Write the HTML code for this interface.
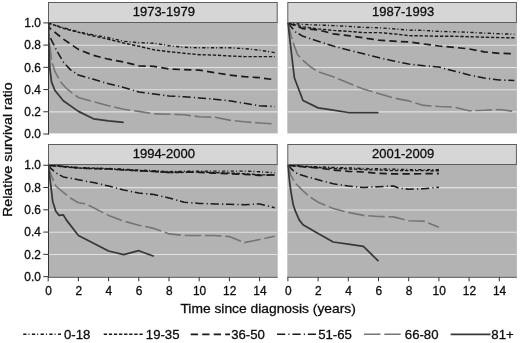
<!DOCTYPE html>
<html lang="en"><head><meta charset="utf-8"><title>Relative survival ratio</title>
<style>html,body{margin:0;padding:0;background:#fff}body{width:520px;height:343px;overflow:hidden}svg{display:block}text{font-family:"Liberation Sans",Arial,Helvetica,sans-serif;fill:#0d0d0d;stroke:#0d0d0d;stroke-width:.3px}</style></head><body>
<svg width="520" height="343" viewBox="0 0 520 343">
<rect width="520" height="343" fill="#fff"/>
<rect x="48" y="22" width="229.7" height="111.4" fill="#b3b3b3"/>
<line x1="48" x2="277.7" y1="111.88" y2="111.88" stroke="#e2e2e2" stroke-width="1.05"/>
<line x1="48" x2="277.7" y1="89.66" y2="89.66" stroke="#e2e2e2" stroke-width="1.05"/>
<line x1="48" x2="277.7" y1="67.44" y2="67.44" stroke="#e2e2e2" stroke-width="1.05"/>
<line x1="48" x2="277.7" y1="45.22" y2="45.22" stroke="#e2e2e2" stroke-width="1.05"/>
<clipPath id="cp1"><rect x="48" y="22" width="229.7" height="113.1"/></clipPath>
<g clip-path="url(#cp1)" fill="none" stroke-linejoin="round">
<polyline points="48.2,23.0 63.3,27.7 78.4,31.8 93.5,34.9 108.6,37.7 123.7,41.3 138.8,42.7 153.9,43.2 169.0,45.7 184.1,47.3 199.2,47.8 214.3,47.8 229.4,47.8 244.5,48.6 259.6,50.2 274.7,52.6" stroke="#1a1a1a" stroke-width="1.4" stroke-dasharray="3.3 2 1 2.4"/>
<polyline points="48.2,23.0 63.3,28.3 78.4,32.4 93.5,36.0 108.6,39.3 123.7,43.0 138.8,46.2 153.9,49.8 169.0,51.7 184.1,53.3 199.2,54.7 214.3,55.1 229.4,56.0 244.5,56.6 259.6,56.6 274.7,56.6" stroke="#1a1a1a" stroke-width="1.4" stroke-dasharray="3.3 1.8"/>
<polyline points="48.2,23.0 49.1,27.4 51.2,29.3 63.3,39.1 78.4,49.4 93.5,55.4 108.6,59.2 123.7,62.0 138.8,65.8 153.9,66.3 169.0,69.0 184.1,69.7 199.2,70.1 214.3,72.6 229.4,75.0 244.5,76.7 259.6,77.7 274.7,79.7" stroke="#1a1a1a" stroke-width="1.7" stroke-dasharray="7.3 4.2"/>
<polyline points="48.2,23.0 49.1,35.2 55.8,48.9 63.3,62.0 70.8,70.1 78.4,75.0 93.5,79.3 108.6,83.8 123.7,87.4 138.8,91.9 153.9,94.0 169.0,96.0 184.1,96.8 199.2,97.9 214.3,99.2 229.4,100.8 244.5,103.3 259.6,105.8 274.7,106.5" stroke="#1a1a1a" stroke-width="1.55" stroke-dasharray="8.2 3.2 1.2 2.8"/>
<polyline points="48.2,23.0 49.4,43.0 51.8,61.9 55.1,71.9 61.3,82.8 66.0,88.0 70.8,91.9 78.4,97.5 93.5,101.7 108.6,105.8 123.7,109.3 138.8,111.4 153.9,113.9 169.0,114.2 184.1,114.8 199.2,116.7 214.3,117.2 229.4,120.1 244.5,121.8 259.6,123.0 274.7,124.0" stroke="#757575" stroke-width="1.6" stroke-dasharray="16.5 3.8"/>
<polyline points="48.2,23.0 49.0,50.8 50.0,69.7 51.5,81.9 54.8,90.2 63.3,100.8 78.4,111.4 93.5,118.8 108.6,120.8 123.7,122.4" stroke="#383838" stroke-width="1.75"/>
</g>
<rect x="48.5" y="2.5" width="228.7" height="20" fill="#d6d6d6" stroke="#5e5e5e" stroke-width="1"/>
<text x="163.8" y="15.9" font-size="13" text-anchor="middle">1973-1979</text>
<rect x="287.3" y="22" width="229.59999999999997" height="111.4" fill="#b3b3b3"/>
<line x1="287.3" x2="516.9" y1="111.88" y2="111.88" stroke="#e2e2e2" stroke-width="1.05"/>
<line x1="287.3" x2="516.9" y1="89.66" y2="89.66" stroke="#e2e2e2" stroke-width="1.05"/>
<line x1="287.3" x2="516.9" y1="67.44" y2="67.44" stroke="#e2e2e2" stroke-width="1.05"/>
<line x1="287.3" x2="516.9" y1="45.22" y2="45.22" stroke="#e2e2e2" stroke-width="1.05"/>
<clipPath id="cp2"><rect x="287.3" y="22" width="229.59999999999997" height="113.1"/></clipPath>
<g clip-path="url(#cp2)" fill="none" stroke-linejoin="round">
<polyline points="287.9,23.0 303.0,24.4 318.1,25.0 333.2,25.6 348.3,26.4 363.4,27.4 378.5,27.7 393.6,28.9 408.7,30.1 423.8,30.4 438.9,31.4 454.0,31.8 469.1,32.3 484.2,33.1 499.3,33.8 514.4,34.2" stroke="#1a1a1a" stroke-width="1.4" stroke-dasharray="3.3 2 1 2.4"/>
<polyline points="287.9,23.0 303.0,26.9 318.1,28.9 333.2,30.4 348.3,31.4 363.4,32.6 378.5,32.6 393.6,33.8 408.7,35.6 423.8,35.9 438.9,36.3 454.0,36.3 469.1,36.7 484.2,37.2 499.3,37.6 514.4,37.8" stroke="#1a1a1a" stroke-width="1.4" stroke-dasharray="3.3 1.8"/>
<polyline points="287.9,23.0 303.0,28.6 318.1,29.9 333.2,33.8 348.3,35.6 363.4,37.8 378.5,40.2 393.6,41.2 408.7,41.9 423.8,44.0 438.9,46.0 454.0,47.3 469.1,48.9 484.2,51.9 499.3,53.3 514.4,53.8" stroke="#1a1a1a" stroke-width="1.7" stroke-dasharray="7.3 4.2"/>
<polyline points="287.9,23.0 295.4,31.9 303.0,36.3 318.1,41.2 333.2,46.1 348.3,50.1 363.4,53.8 378.5,57.6 393.6,60.9 408.7,64.1 423.8,65.8 438.9,67.1 454.0,71.0 469.1,75.0 484.2,78.0 499.3,80.0 514.4,80.4" stroke="#1a1a1a" stroke-width="1.55" stroke-dasharray="8.2 3.2 1.2 2.8"/>
<polyline points="287.9,23.0 292.7,41.6 297.6,54.7 303.0,60.3 310.5,66.9 318.1,71.8 333.2,76.7 348.3,82.9 363.4,89.1 378.5,93.5 393.6,98.0 408.7,100.9 423.8,105.4 438.9,106.5 454.0,107.1 469.1,110.7 484.2,110.3 499.3,109.5 514.4,111.4" stroke="#757575" stroke-width="1.6" stroke-dasharray="16.5 3.8"/>
<polyline points="287.9,23.0 294.4,78.0 303.0,100.5 318.1,107.9 333.2,110.1 348.3,112.5 363.4,112.5 378.5,112.5" stroke="#383838" stroke-width="1.75"/>
</g>
<rect x="287.8" y="2.5" width="228.59999999999997" height="20" fill="#d6d6d6" stroke="#5e5e5e" stroke-width="1"/>
<text x="403.1" y="15.9" font-size="13" text-anchor="middle">1987-1993</text>
<rect x="48" y="164" width="229.7" height="112.0" fill="#b3b3b3"/>
<line x1="48" x2="277.7" y1="254.47" y2="254.47" stroke="#e2e2e2" stroke-width="1.05"/>
<line x1="48" x2="277.7" y1="232.19" y2="232.19" stroke="#e2e2e2" stroke-width="1.05"/>
<line x1="48" x2="277.7" y1="209.91" y2="209.91" stroke="#e2e2e2" stroke-width="1.05"/>
<line x1="48" x2="277.7" y1="187.63" y2="187.63" stroke="#e2e2e2" stroke-width="1.05"/>
<clipPath id="cp3"><rect x="48" y="164" width="229.7" height="113.8"/></clipPath>
<g clip-path="url(#cp3)" fill="none" stroke-linejoin="round">
<polyline points="48.2,165.3 63.3,166.2 78.4,167.6 93.5,168.1 108.6,168.5 123.7,169.2 138.8,170.1 153.9,170.7 169.0,171.6 184.1,171.3 199.2,171.1 214.3,171.1 229.4,171.1 244.5,171.1 259.6,171.7 274.7,172.8" stroke="#1a1a1a" stroke-width="1.4" stroke-dasharray="3.3 2 1 2.4"/>
<polyline points="48.2,165.3 63.3,166.7 78.4,168.1 93.5,168.7 108.6,169.1 123.7,169.9 138.8,170.9 153.9,171.5 169.0,172.6 184.1,172.4 199.2,172.0 214.3,172.6 229.4,173.1 244.5,173.7 259.6,174.8 274.7,175.0" stroke="#1a1a1a" stroke-width="1.4" stroke-dasharray="3.3 1.8"/>
<polyline points="48.2,165.3 63.3,166.5 78.4,167.9 93.5,168.5 108.6,168.8 123.7,169.8 138.8,170.7 153.9,171.3 169.0,172.4 184.1,172.0 199.2,172.3 214.3,173.1 229.4,173.7 244.5,174.3 259.6,175.4 274.7,174.8" stroke="#1a1a1a" stroke-width="1.7" stroke-dasharray="7.3 4.2"/>
<polyline points="48.2,165.3 51.2,168.7 55.8,172.8 63.3,176.9 78.4,179.8 93.5,182.6 108.6,186.0 123.7,190.0 138.8,193.0 153.9,194.5 169.0,197.9 184.1,202.2 199.2,203.4 214.3,203.9 229.4,204.3 244.5,204.7 259.6,203.9 274.7,207.7" stroke="#1a1a1a" stroke-width="1.55" stroke-dasharray="8.2 3.2 1.2 2.8"/>
<polyline points="48.2,165.3 51.2,175.4 55.8,186.0 63.3,192.4 70.8,198.2 78.4,202.8 86.0,203.9 93.5,207.7 101.1,211.6 108.6,215.4 123.7,221.1 138.8,225.2 153.9,228.4 169.0,233.9 184.1,235.5 199.2,235.5 214.3,235.5 229.4,236.6 244.5,242.6 259.6,239.5 274.7,236.3" stroke="#757575" stroke-width="1.6" stroke-dasharray="16.5 3.8"/>
<polyline points="48.2,165.3 50.2,180.3 52.7,201.4 55.8,211.2 59.1,215.4 63.3,214.9 66.3,219.9 78.4,235.5 93.5,243.3 108.6,251.0 123.7,254.6 138.8,250.7 153.9,256.3" stroke="#383838" stroke-width="1.75"/>
</g>
<rect x="48.5" y="144.5" width="228.7" height="20" fill="#d6d6d6" stroke="#5e5e5e" stroke-width="1"/>
<text x="163.8" y="157.9" font-size="13" text-anchor="middle">1994-2000</text>
<rect x="287.3" y="164" width="229.59999999999997" height="112.0" fill="#b3b3b3"/>
<line x1="287.3" x2="516.9" y1="254.47" y2="254.47" stroke="#e2e2e2" stroke-width="1.05"/>
<line x1="287.3" x2="516.9" y1="232.19" y2="232.19" stroke="#e2e2e2" stroke-width="1.05"/>
<line x1="287.3" x2="516.9" y1="209.91" y2="209.91" stroke="#e2e2e2" stroke-width="1.05"/>
<line x1="287.3" x2="516.9" y1="187.63" y2="187.63" stroke="#e2e2e2" stroke-width="1.05"/>
<clipPath id="cp4"><rect x="287.3" y="164" width="229.59999999999997" height="113.8"/></clipPath>
<g clip-path="url(#cp4)" fill="none" stroke-linejoin="round">
<polyline points="287.9,165.3 303.0,166.2 318.1,166.8 333.2,167.5 348.3,167.9 363.4,168.5 378.5,168.8 393.6,169.2 408.7,169.6 423.8,169.6 438.9,169.6" stroke="#1a1a1a" stroke-width="1.4" stroke-dasharray="3.3 2 1 2.4"/>
<polyline points="287.9,165.3 303.0,166.7 318.1,167.6 333.2,168.5 348.3,168.9 363.4,169.6 378.5,170.0 393.6,170.6 408.7,170.6 423.8,170.6 438.9,170.8" stroke="#1a1a1a" stroke-width="1.4" stroke-dasharray="3.3 1.8"/>
<polyline points="287.9,165.3 303.0,166.7 318.1,167.9 333.2,170.0 348.3,171.3 363.4,172.0 378.5,173.4 393.6,173.9 408.7,173.9 423.8,173.7 438.9,173.7" stroke="#1a1a1a" stroke-width="1.7" stroke-dasharray="7.3 4.2"/>
<polyline points="287.9,165.3 295.4,172.8 303.0,175.6 318.1,179.8 333.2,183.8 348.3,186.0 363.4,187.6 378.5,186.7 393.6,186.0 398.9,188.2 408.7,189.2 423.8,188.7 438.9,187.2" stroke="#1a1a1a" stroke-width="1.55" stroke-dasharray="8.2 3.2 1.2 2.8"/>
<polyline points="287.9,165.3 290.9,175.4 295.4,183.2 303.0,190.9 310.5,197.3 318.1,202.2 333.2,208.4 348.3,212.4 363.4,215.4 378.5,216.5 393.6,216.9 408.7,220.7 423.8,221.1 438.9,227.3" stroke="#757575" stroke-width="1.6" stroke-dasharray="16.5 3.8"/>
<polyline points="287.9,165.3 289.4,179.8 290.9,191.6 293.2,204.7 295.4,211.2 299.2,219.9 303.0,224.8 318.1,233.5 333.2,242.0 348.3,244.1 363.4,246.4 378.5,261.2" stroke="#383838" stroke-width="1.75"/>
</g>
<rect x="287.8" y="144.5" width="228.59999999999997" height="20" fill="#d6d6d6" stroke="#5e5e5e" stroke-width="1"/>
<text x="403.1" y="157.9" font-size="13" text-anchor="middle">2001-2009</text>
<line x1="48.5" x2="48.5" y1="22.5" y2="134.7" stroke="#333" stroke-width="1"/>
<line x1="43.3" x2="48.5" y1="134.00" y2="134.00" stroke="#333" stroke-width="1"/>
<text x="40.8" y="138.2" font-size="11.9" text-anchor="end">0.0</text>
<line x1="43.3" x2="48.5" y1="111.78" y2="111.78" stroke="#333" stroke-width="1"/>
<text x="40.8" y="116.0" font-size="11.9" text-anchor="end">0.2</text>
<line x1="43.3" x2="48.5" y1="89.56" y2="89.56" stroke="#333" stroke-width="1"/>
<text x="40.8" y="93.8" font-size="11.9" text-anchor="end">0.4</text>
<line x1="43.3" x2="48.5" y1="67.34" y2="67.34" stroke="#333" stroke-width="1"/>
<text x="40.8" y="71.5" font-size="11.9" text-anchor="end">0.6</text>
<line x1="43.3" x2="48.5" y1="45.12" y2="45.12" stroke="#333" stroke-width="1"/>
<text x="40.8" y="49.3" font-size="11.9" text-anchor="end">0.8</text>
<line x1="43.3" x2="48.5" y1="22.90" y2="22.90" stroke="#333" stroke-width="1"/>
<text x="40.8" y="27.1" font-size="11.9" text-anchor="end">1.0</text>
<line x1="48.5" x2="48.5" y1="164.85" y2="277.35" stroke="#333" stroke-width="1"/>
<line x1="43.3" x2="48.5" y1="276.65" y2="276.65" stroke="#333" stroke-width="1"/>
<text x="40.8" y="280.9" font-size="11.9" text-anchor="end">0.0</text>
<line x1="43.3" x2="48.5" y1="254.37" y2="254.37" stroke="#333" stroke-width="1"/>
<text x="40.8" y="258.6" font-size="11.9" text-anchor="end">0.2</text>
<line x1="43.3" x2="48.5" y1="232.09" y2="232.09" stroke="#333" stroke-width="1"/>
<text x="40.8" y="236.3" font-size="11.9" text-anchor="end">0.4</text>
<line x1="43.3" x2="48.5" y1="209.81" y2="209.81" stroke="#333" stroke-width="1"/>
<text x="40.8" y="214.0" font-size="11.9" text-anchor="end">0.6</text>
<line x1="43.3" x2="48.5" y1="187.53" y2="187.53" stroke="#333" stroke-width="1"/>
<text x="40.8" y="191.7" font-size="11.9" text-anchor="end">0.8</text>
<line x1="43.3" x2="48.5" y1="165.25" y2="165.25" stroke="#333" stroke-width="1"/>
<text x="40.8" y="169.4" font-size="11.9" text-anchor="end">1.0</text>
<line x1="48" x2="277.7" y1="277.1" y2="277.1" stroke="#444" stroke-width="1.1"/>
<line x1="48.2" x2="48.2" y1="277.1" y2="281.3" stroke="#333" stroke-width="1"/>
<text x="48.5" y="294.8" font-size="11.9" text-anchor="middle">0</text>
<line x1="78.4" x2="78.4" y1="277.1" y2="281.3" stroke="#333" stroke-width="1"/>
<text x="78.7" y="294.8" font-size="11.9" text-anchor="middle">2</text>
<line x1="108.6" x2="108.6" y1="277.1" y2="281.3" stroke="#333" stroke-width="1"/>
<text x="108.9" y="294.8" font-size="11.9" text-anchor="middle">4</text>
<line x1="138.8" x2="138.8" y1="277.1" y2="281.3" stroke="#333" stroke-width="1"/>
<text x="139.1" y="294.8" font-size="11.9" text-anchor="middle">6</text>
<line x1="169.0" x2="169.0" y1="277.1" y2="281.3" stroke="#333" stroke-width="1"/>
<text x="169.3" y="294.8" font-size="11.9" text-anchor="middle">8</text>
<line x1="199.2" x2="199.2" y1="277.1" y2="281.3" stroke="#333" stroke-width="1"/>
<text x="199.5" y="294.8" font-size="11.9" text-anchor="middle">10</text>
<line x1="229.4" x2="229.4" y1="277.1" y2="281.3" stroke="#333" stroke-width="1"/>
<text x="229.7" y="294.8" font-size="11.9" text-anchor="middle">12</text>
<line x1="259.6" x2="259.6" y1="277.1" y2="281.3" stroke="#333" stroke-width="1"/>
<text x="259.9" y="294.8" font-size="11.9" text-anchor="middle">14</text>
<line x1="287.3" x2="516.9" y1="277.1" y2="277.1" stroke="#444" stroke-width="1.1"/>
<line x1="287.9" x2="287.9" y1="277.1" y2="281.3" stroke="#333" stroke-width="1"/>
<text x="288.2" y="294.8" font-size="11.9" text-anchor="middle">0</text>
<line x1="318.1" x2="318.1" y1="277.1" y2="281.3" stroke="#333" stroke-width="1"/>
<text x="318.4" y="294.8" font-size="11.9" text-anchor="middle">2</text>
<line x1="348.3" x2="348.3" y1="277.1" y2="281.3" stroke="#333" stroke-width="1"/>
<text x="348.6" y="294.8" font-size="11.9" text-anchor="middle">4</text>
<line x1="378.5" x2="378.5" y1="277.1" y2="281.3" stroke="#333" stroke-width="1"/>
<text x="378.8" y="294.8" font-size="11.9" text-anchor="middle">6</text>
<line x1="408.7" x2="408.7" y1="277.1" y2="281.3" stroke="#333" stroke-width="1"/>
<text x="409.0" y="294.8" font-size="11.9" text-anchor="middle">8</text>
<line x1="438.9" x2="438.9" y1="277.1" y2="281.3" stroke="#333" stroke-width="1"/>
<text x="439.2" y="294.8" font-size="11.9" text-anchor="middle">10</text>
<line x1="469.1" x2="469.1" y1="277.1" y2="281.3" stroke="#333" stroke-width="1"/>
<text x="469.4" y="294.8" font-size="11.9" text-anchor="middle">12</text>
<line x1="499.3" x2="499.3" y1="277.1" y2="281.3" stroke="#333" stroke-width="1"/>
<text x="499.6" y="294.8" font-size="11.9" text-anchor="middle">14</text>
<text x="180.4" y="312.7" font-size="13.6" textLength="175.4" lengthAdjust="spacingAndGlyphs">Time since diagnosis (years)</text>
<text transform="translate(12.0 216.9) rotate(-90)" font-size="13.6" textLength="134.5" lengthAdjust="spacingAndGlyphs">Relative survival ratio</text>
<line x1="23.2" x2="61" y1="334.3" y2="334.3" stroke="#1a1a1a" stroke-width="1.4" stroke-dasharray="3.3 2 1 2.4"/>
<text x="64.0" y="338.9" font-size="13.2">0-18</text>
<line x1="103.7" x2="144.5" y1="334.3" y2="334.3" stroke="#1a1a1a" stroke-width="1.4" stroke-dasharray="3.3 1.8"/>
<text x="145.8" y="338.9" font-size="13.2">19-35</text>
<line x1="190.7" x2="230" y1="334.3" y2="334.3" stroke="#1a1a1a" stroke-width="1.7" stroke-dasharray="7.3 4.2"/>
<text x="231.2" y="338.9" font-size="13.2">36-50</text>
<line x1="277" x2="317.5" y1="334.3" y2="334.3" stroke="#1a1a1a" stroke-width="1.55" stroke-dasharray="8.2 3.2 1.2 2.8"/>
<text x="318.2" y="338.9" font-size="13.2">51-65</text>
<line x1="364" x2="400.7" y1="334.3" y2="334.3" stroke="#757575" stroke-width="1.6" stroke-dasharray="16.5 3.8"/>
<text x="404.8" y="338.9" font-size="13.2">66-80</text>
<line x1="450.7" x2="490.5" y1="334.3" y2="334.3" stroke="#383838" stroke-width="1.75"/>
<text x="491.3" y="338.9" font-size="13.2">81+</text>
</svg></body></html>
